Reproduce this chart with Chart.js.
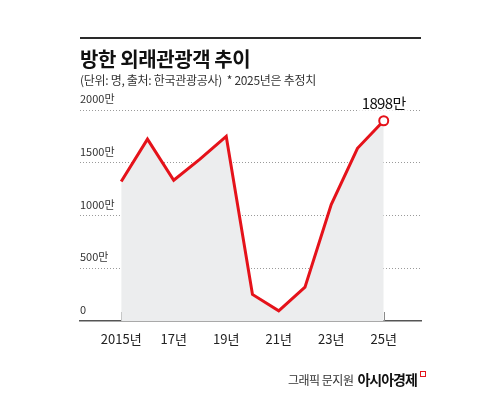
<!DOCTYPE html>
<html><head><meta charset="utf-8">
<script src="https://cdn.jsdelivr.net/npm/chart.js@4/dist/chart.umd.min.js"></script>
<style>
html,body{margin:0;padding:0;background:#fff;}
#wrap{position:relative;width:500px;height:399px;overflow:hidden;font-family:"Noto Sans CJK KR","Noto Sans",sans-serif;}
canvas{position:absolute;left:0;top:0;}
.hr{position:absolute;left:80px;top:37px;width:341px;height:1.5px;background:#2a2a2a;}
.title{position:absolute;left:80px;top:45px;font-size:20px;font-weight:700;color:#111;letter-spacing:-0.4px;line-height:28px;white-space:nowrap;}
.sub{position:absolute;left:80px;top:72px;font-size:12px;color:#333;letter-spacing:-0.3px;line-height:16px;white-space:pre;}
.credit{position:absolute;left:288px;top:370px;font-size:12px;color:#333;letter-spacing:-0.5px;line-height:18px;white-space:nowrap;}
.brand{font-size:14px;font-weight:700;color:#111;margin-left:4px;letter-spacing:-1px;}
.icon{display:inline-block;width:4px;height:4px;border:1.2px solid #e3151c;margin-left:3px;vertical-align:8px;}
</style></head>
<body>
<div id="wrap">
<canvas id="c" width="500" height="399"></canvas>
<div class="hr"></div>
<div class="title">방한 외래관광객 추이</div>
<div class="sub">(단위: 명, 출처: 한국관광공사)  * 2025년은 추정치</div>
<div class="credit">그래픽 문지원<span class="brand">아시아경제</span><span class="icon"></span></div>
</div>
<script>
// Data (unit: 만 명)
const years = [2015, 2016, 2017, 2018, 2019, 2020, 2021, 2022, 2023, 2024, 2025];
const visitors = [1323, 1724, 1334, 1535, 1750, 252, 97, 320, 1103, 1637, 1898];
const xTickYears = [2015, 2017, 2019, 2021, 2023, 2025];
const yTickValues = [0, 500, 1000, 1500, 2000];

const FONT = '"Noto Sans CJK KR","Noto Sans",sans-serif';
const RED = '#e5121a';

const inwardTicks = {
  id: 'inwardTicks',
  beforeDatasetsDraw(chart) {
    const {ctx, scales: {x}, chartArea} = chart;
    ctx.save();
    ctx.strokeStyle = '#8a8a8a';
    ctx.lineWidth = 1;
    xTickYears.forEach(v => {
      const px = Math.round(x.getPixelForValue(v)) + 0.5;
      ctx.beginPath();
      ctx.moveTo(px, chartArea.bottom);
      ctx.lineTo(px, chartArea.bottom - 9);
      ctx.stroke();
    });
    ctx.restore();
  }
};

const lastLabel = {
  id: 'lastLabel',
  afterDatasetsDraw(chart) {
    const {ctx} = chart;
    const meta = chart.getDatasetMeta(0);
    const i = visitors.length - 1;
    const pt = meta.data[i];
    const text = visitors[i] + '만';
    ctx.save();
    ctx.font = '15px ' + FONT;
    try { ctx.letterSpacing = '-0.6px'; } catch(e) {}
    const w = ctx.measureText(text).width;
    const cy = pt.y - 17;
    ctx.fillStyle = '#fff';
    ctx.fillRect(pt.x - w / 2 - 3, cy - 8, w + 6, 15);
    ctx.fillStyle = '#111';
    ctx.textAlign = 'center';
    ctx.textBaseline = 'middle';
    ctx.fillText(text, pt.x, cy);
    ctx.restore();
  }
};

new Chart(document.getElementById('c'), {
  type: 'line',
  data: {
    datasets: [{
      data: years.map((y, i) => ({x: y, y: visitors[i]})),
      borderColor: RED,
      borderWidth: 3,
      tension: 0,
      fill: 'origin',
      backgroundColor: '#ecedee',
      pointRadius: visitors.map((v, i) => i === visitors.length - 1 ? 4.5 : 0),
      pointBackgroundColor: '#fff',
      pointBorderColor: RED,
      pointBorderWidth: 2,
      clip: false
    }]
  },
  options: {
    responsive: false,
    animation: false,
    events: [],
    layout: {padding: {left: 80, right: 79, top: 110, bottom: 0}},
    plugins: {legend: {display: false}, tooltip: {enabled: false}},
    scales: {
      x: {
        type: 'linear',
        min: 2013.43,
        max: 2026.42,
        afterBuildTicks(scale) { scale.ticks = xTickYears.map(v => ({value: v})); },
        afterFit(scale) { scale.height = 78; },
        ticks: {
          autoSkip: false,
          maxRotation: 0,
          padding: 10,
          color: '#222',
          font: {family: FONT, size: 13},
          callback: v => (v === xTickYears[0] ? String(v) : String(v).slice(2)) + '년'
        },
        grid: {display: true, drawOnChartArea: false, drawTicks: false},
        border: {display: true, color: '#555', width: 1.5}
      },
      y: {
        min: 0,
        max: 2000,
        afterBuildTicks(scale) { scale.ticks = yTickValues.map(v => ({value: v})); },
        afterFit(scale) { scale.width = 0; },
        ticks: {
          mirror: true,
          padding: 0,
          labelOffset: -11,
          color: '#333',
          font: {family: FONT, size: 11},
          callback: v => v === 0 ? '0' : v + '만'
        },
        grid: {
          drawTicks: false,
          color: ctx => ctx.tick && ctx.tick.value === 0 ? 'rgba(0,0,0,0)' : '#9a9a9a',
          lineWidth: 1
        },
        border: {display: false, dash: [1, 2]}
      }
    }
  },
  plugins: [inwardTicks, lastLabel]
});
</script>
</body></html>
